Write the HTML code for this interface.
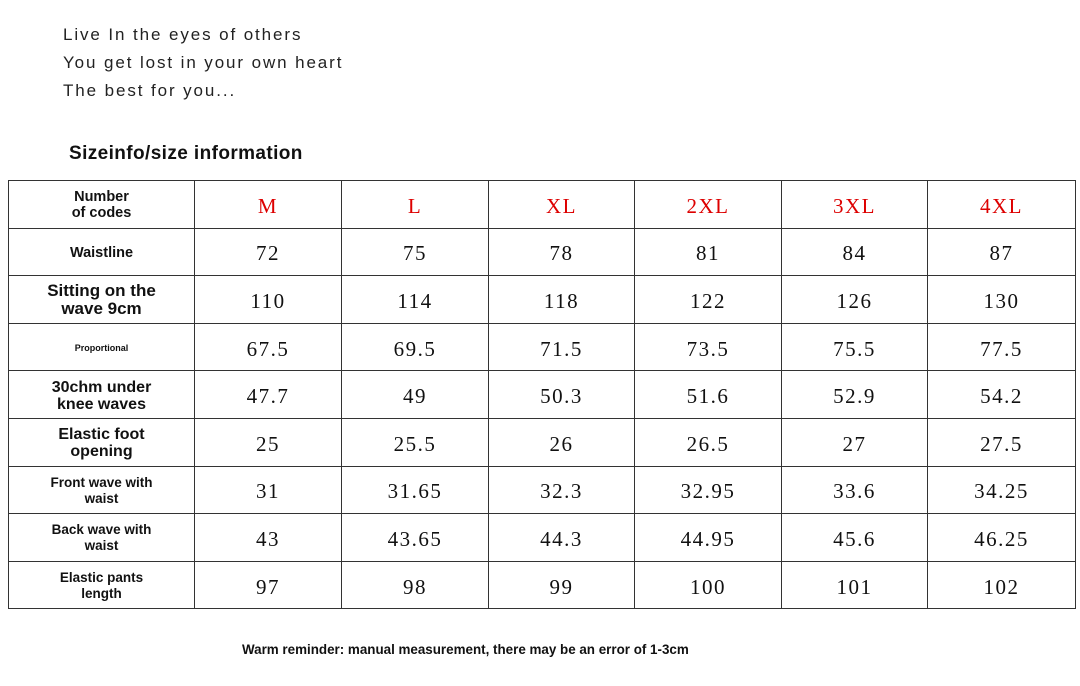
<!DOCTYPE html>
<html><head><meta charset="utf-8"><style>
body{margin:0;width:1080px;height:686px;background:#fff;position:relative;overflow:hidden;font-family:"Liberation Sans",sans-serif;}
.intro{position:absolute;left:63px;font-size:17px;letter-spacing:1.9px;color:#222;}
.title{position:absolute;left:69px;top:143px;font-size:19px;letter-spacing:0.4px;font-weight:bold;color:#111;}
table{position:absolute;left:8px;top:180px;border-collapse:collapse;table-layout:fixed;}
td{border:1px solid #333;height:46.6px;padding:4px 0 0 0;box-sizing:border-box;text-align:center;vertical-align:middle;font-family:"Liberation Serif","Noto Serif CJK SC",serif;font-size:21px;color:#111;letter-spacing:1.5px;}
td.h{padding:2px 0 0 0;font-family:"Liberation Sans",sans-serif;font-weight:bold;font-size:14.5px;line-height:16px;letter-spacing:0;}
tr{height:47.6px;}
tr.head td{color:#d00;}
.note{position:absolute;left:242px;top:642px;font-size:13.4px;font-weight:bold;color:#111;}
</style></head><body>
<div class="intro" style="top:25px">Live In the eyes of others</div>
<div class="intro" style="top:53px">You get lost in your own heart</div>
<div class="intro" style="top:81px">The best for you...</div>
<div class="title">Sizeinfo/size information</div>
<table>
<colgroup><col style="width:186px"><col style="width:147px"><col style="width:147px"><col style="width:146px"><col style="width:147px"><col style="width:146px"><col style="width:148px"></colgroup>
<tr class="head"><td class="h" style="color:#111">Number<br>of codes</td><td>M</td><td>L</td><td>XL</td><td>2XL</td><td>3XL</td><td>4XL</td></tr>
<tr><td class="h">Waistline</td><td>72</td><td>75</td><td>78</td><td>81</td><td>84</td><td>87</td></tr>
<tr><td class="h" style="font-size:17px;line-height:18px">Sitting on the<br>wave 9cm</td><td>110</td><td>114</td><td>118</td><td>122</td><td>126</td><td>130</td></tr>
<tr><td class="h" style="font-size:9px">Proportional</td><td>67.5</td><td>69.5</td><td>71.5</td><td>73.5</td><td>75.5</td><td>77.5</td></tr>
<tr><td class="h" style="font-size:16px;line-height:17px">30chm under<br>knee waves</td><td>47.7</td><td>49</td><td>50.3</td><td>51.6</td><td>52.9</td><td>54.2</td></tr>
<tr><td class="h" style="font-size:16px;line-height:17px">Elastic foot<br>opening</td><td>25</td><td>25.5</td><td>26</td><td>26.5</td><td>27</td><td>27.5</td></tr>
<tr><td class="h" style="font-size:13.5px">Front wave with<br>waist</td><td>31</td><td>31.65</td><td>32.3</td><td>32.95</td><td>33.6</td><td>34.25</td></tr>
<tr><td class="h" style="font-size:13.5px">Back wave with<br>waist</td><td>43</td><td>43.65</td><td>44.3</td><td>44.95</td><td>45.6</td><td>46.25</td></tr>
<tr><td class="h" style="font-size:13.5px">Elastic pants<br>length</td><td>97</td><td>98</td><td>99</td><td>100</td><td>101</td><td>102</td></tr>
</table>
<div class="note">Warm reminder: manual measurement, there may be an error of 1-3cm</div>
</body></html>
